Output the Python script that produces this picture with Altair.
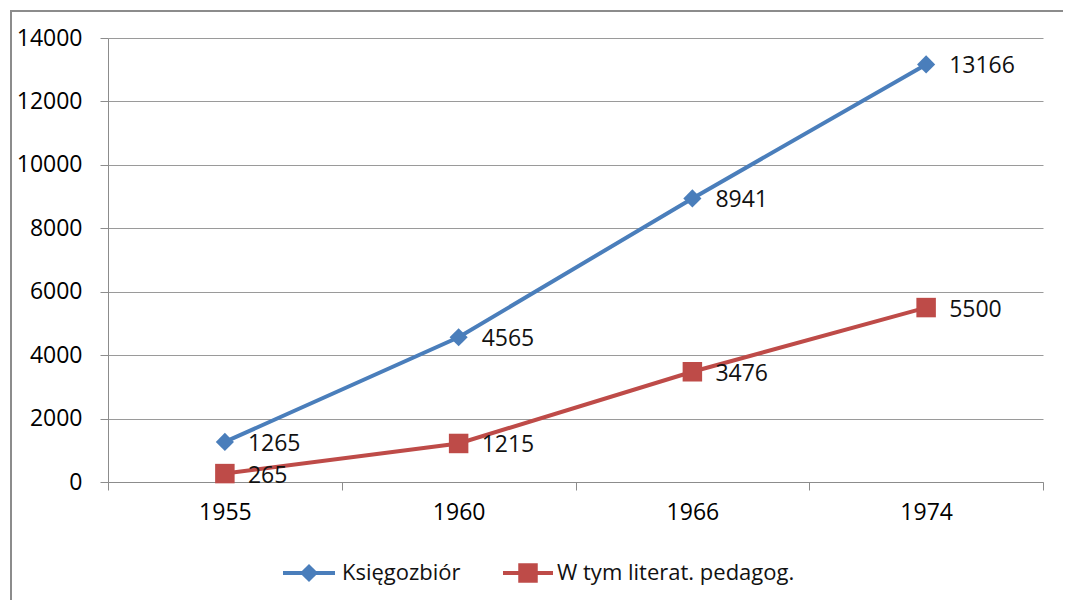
import altair as alt
import pandas as pd

# ---- data ----
years = ["1955", "1960", "1966", "1974"]
ksiegozbior = [1265, 4565, 8941, 13166]
pedagog = [265, 1215, 3476, 5500]
series = ["Księgozbiór", "W tym literat. pedagog."]
colors = ["#4A7EBB", "#BE4B48"]
shapes = ["diamond", "square"]
y_ticks = [0, 2000, 4000, 6000, 8000, 10000, 12000, 14000]

rows = []
for name, vals in zip(series, [ksiegozbior, pedagog]):
    for yr, v in zip(years, vals):
        rows.append({"year": yr, "value": v, "series": name})
df = pd.DataFrame(rows)

FONT = "Open Sans"
FS = 23
GRAY = "#8c8c8c"

x_enc = alt.X("year:N", sort=years,
              scale=alt.Scale(type="band", paddingInner=0, paddingOuter=0),
              axis=alt.Axis(title=None, labelAngle=0, tickBand="extent", tickSize=8,
                            grid=False, domainColor=GRAY, tickColor=GRAY,
                            labelFont=FONT, labelFontSize=FS, labelColor="#000",
                            labelPadding=11))
y_enc = alt.Y("value:Q",
              scale=alt.Scale(domain=[0, 14000], nice=False),
              axis=alt.Axis(title=None, values=y_ticks, format="d", tickSize=8, grid=True,
                            gridColor="#9a9a9a", domainColor=GRAY, tickColor=GRAY,
                            labelFont=FONT, labelFontSize=FS, labelColor="#000",
                            labelPadding=18))
color_enc = alt.Color("series:N", scale=alt.Scale(domain=series, range=colors), legend=None)

base = alt.Chart(df)
one = pd.DataFrame({"a": [0]})

# outer chart frame (only top and left edges are visible in the reference)
frame_top = alt.Chart(one).mark_rule(color=GRAY, strokeWidth=2).encode(
    x=alt.value(-98), x2=alt.value(1000), y=alt.value(-27))
frame_left = alt.Chart(one).mark_rule(color=GRAY, strokeWidth=2).encode(
    x=alt.value(-97), y=alt.value(-28), y2=alt.value(1000))

lines = base.mark_line(strokeWidth=4).encode(x=x_enc, y=y_enc, color=color_enc)
points = base.mark_point(filled=True, opacity=1).encode(
    x=x_enc, y=y_enc, color=color_enc,
    shape=alt.Shape("series:N", scale=alt.Scale(domain=series, range=shapes), legend=None),
    size=alt.Size("series:N", scale=alt.Scale(domain=series, range=[330, 380]), legend=None),
)
labels = base.mark_text(align="left", baseline="middle", dx=23, dy=2,
                        font=FONT, fontSize=FS, color="#111").encode(
    x=x_enc, y=y_enc, text="value:Q")

# ---- manual legend (line + marker + label) ----
leg_y = 535
legend_layers = []
leg_specs = [
    (series[0], colors[0], shapes[0], 175, 227, 201, 234, 330),
    (series[1], colors[1], shapes[1], 395, 445, 420, 449, 380),
]
for name, col, shp, x0, x1, xm, xt, sz in leg_specs:
    legend_layers.append(alt.Chart(one).mark_rule(color=col, strokeWidth=4).encode(
        x=alt.value(x0), x2=alt.value(x1), y=alt.value(leg_y)))
    legend_layers.append(alt.Chart(one).mark_point(filled=True, opacity=1, color=col,
                                                   shape=shp, size=sz).encode(
        x=alt.value(xm), y=alt.value(leg_y)))
    legend_layers.append(alt.Chart(one).mark_text(align="left", baseline="middle",
                                                  font=FONT, fontSize=22, color="#111",
                                                  text=name).encode(
        x=alt.value(xt), y=alt.value(leg_y)))

chart = alt.layer(frame_top, frame_left, lines, points, labels, *legend_layers).properties(
    width=935, height=444,
    autosize=alt.AutoSizeParams(type="none"),
    padding={"left": 100, "top": 30, "right": 20, "bottom": 118},
    background="white",
).configure_view(strokeWidth=0)

chart.save("out.html", embed_options={"renderer": "svg", "actions": False})
